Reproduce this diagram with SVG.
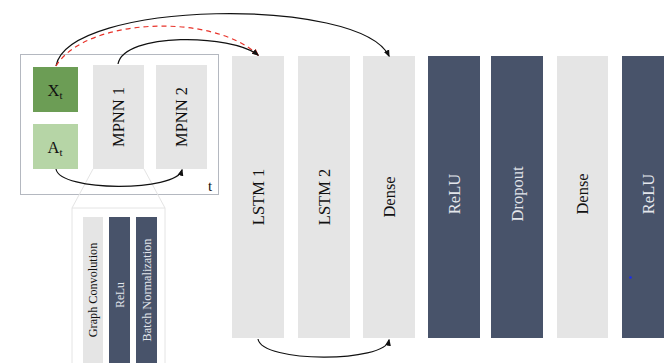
<svg xmlns="http://www.w3.org/2000/svg" width="664" height="363" viewBox="0 0 664 363">
<style>
.lt{fill:#e5e5e5}
.dk{fill:#48536a}
text{font-family:"Liberation Serif","DejaVu Serif",serif;text-anchor:middle;dominant-baseline:central}
.b{fill:#111;font-size:16.5px}
.w{fill:#e3e6ec;font-size:16.5px}
.sb{fill:#111;font-size:12.2px}
.sw{fill:#e3e6ec;font-size:12px}
.c{fill:none;stroke:#111;stroke-width:1.2}
.r{fill:none;stroke:#e8332a;stroke-width:1.2;stroke-dasharray:5 4}
</style>
<defs>
<marker id="ah" viewBox="0 0 10 10" refX="8" refY="5" markerWidth="6" markerHeight="6" orient="auto"><path d="M0,1 L10,5 L0,9 z" fill="#111"/></marker>
<marker id="ar" viewBox="0 0 10 10" refX="8" refY="5" markerWidth="6" markerHeight="6" orient="auto"><path d="M0,1 L10,5 L0,9 z" fill="#e8332a"/></marker>
</defs>
<rect width="664" height="363" fill="#fff"/>
<g id="frame">
<rect x="20.5" y="54.5" width="198" height="140" fill="#fff" stroke="#b4b8c0" stroke-width="1"/>
<text x="210" y="186" class="b" style="font-size:15px">t</text>
</g>
<g id="zoom-lines">
<path d="M93,169 L72,208 L72,363 M144,169 L165,208 L165,363 M72,208 L165,208" fill="none" stroke="#e4e4e4" stroke-width="1"/>
</g>
<g id="Xt"><rect x="33" y="67" width="45" height="45" fill="#6c9d55"/><text x="55" y="90" class="b">X<tspan font-size="11" dy="5">t</tspan></text></g>
<g id="At"><rect x="33" y="124" width="45" height="45" fill="#b6d5a6"/><text x="55" y="147" class="b">A<tspan font-size="11" dy="5">t</tspan></text></g>
<g id="MPNN1"><rect x="93" y="65" width="51" height="104" class="lt"/><text class="b" transform="translate(118.5,117) rotate(-90)">MPNN 1</text></g>
<g id="MPNN2"><rect x="156" y="65" width="51" height="104" class="lt"/><text class="b" transform="translate(181.5,117) rotate(-90)">MPNN 2</text></g>
<g id="GraphConv"><rect x="83" y="217" width="20" height="146" class="lt"/><text class="sb" transform="translate(93,290) rotate(-90)">Graph Convolution</text></g>
<g id="ReLu-sub"><rect x="109" y="217" width="21" height="146" class="dk"/><text class="sw" style="font-size:11.5px" transform="translate(119.5,295) rotate(-90)">ReLu</text></g>
<g id="BatchNorm"><rect x="136" y="217" width="21" height="146" class="dk"/><text class="sw" style="font-size:12.3px" transform="translate(146.5,290) rotate(-90)">Batch Normalization</text></g>
<g id="LSTM1"><rect x="232" y="56" width="52" height="282" class="lt"/><text class="b" transform="translate(258,197) rotate(-90)">LSTM 1</text></g>
<g id="LSTM2"><rect x="298" y="56" width="52" height="282" class="lt"/><text class="b" transform="translate(324,197) rotate(-90)">LSTM 2</text></g>
<g id="Dense1"><rect x="363" y="56" width="52" height="282" class="lt"/><text class="b" transform="translate(389,197) rotate(-90)">Dense</text></g>
<g id="ReLU1"><rect x="428" y="56" width="52" height="282" class="dk"/><text class="w" transform="translate(454,194) rotate(-90)">ReLU</text></g>
<g id="Dropout"><rect x="491" y="56" width="52" height="282" class="dk"/><text class="w" transform="translate(517,194) rotate(-90)">Dropout</text></g>
<g id="Dense2"><rect x="557" y="56" width="51" height="282" class="lt"/><text class="b" transform="translate(582.5,194) rotate(-90)">Dense</text></g>
<g id="ReLU2"><rect x="622" y="56" width="52" height="282" class="dk"/><text class="w" transform="translate(648,194) rotate(-90)">ReLU</text><circle cx="630.5" cy="277.5" r="1.3" fill="#1a2cf0"/></g>
<g id="connectors">
<path class="c" d="M56,66 C68,0 360,-4 389,56" marker-end="url(#ah)"/>
<path class="r" d="M56,66 C85,18 212,12 258,55" marker-end="url(#ar)"/>
<path class="c" d="M118,64 C124,32 232,34 258,55" marker-end="url(#ah)"/>
<path class="c" d="M56,169 C60,192 176,192 182,170" marker-end="url(#ah)"/>
<path class="c" d="M258,339 C262,363 385,363 389,340" marker-end="url(#ah)"/>
</g>
</svg>
